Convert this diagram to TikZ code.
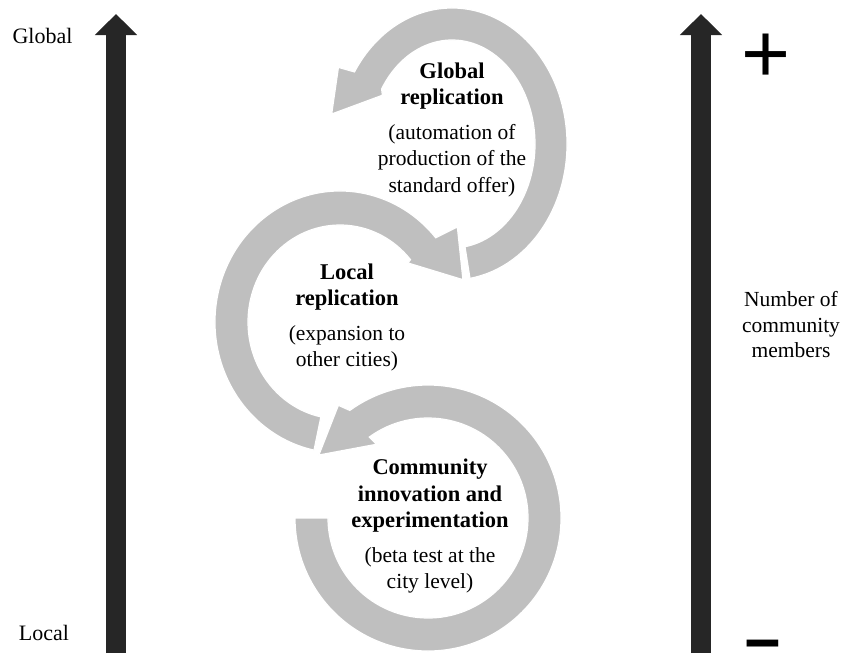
\documentclass[tikz,border=0pt]{standalone}
\usepackage{fontspec}
\setmainfont{Liberation Serif}
\newfontfamily\signfont{Liberation Sans}
\usetikzlibrary{arrows.meta}

\definecolor{axisgray}{HTML}{262626}
\definecolor{ringgray}{HTML}{BFBFBF}

% bold heading lines inside the rings
\newcommand\ringhead[1]{{\fontsize{22.5}{26.5}\selectfont\bfseries #1}}

\begin{document}
\begin{tikzpicture}[x=1pt, y=1pt,
    axisarrow/.style={line width=20pt, draw=axisgray,
                      -{Triangle[width=41pt, length=21pt]}},
    ringfill/.style={fill=ringgray, draw=white, line width=1.2pt},
    ringtext/.style={align=center, inner sep=0pt,
                     font=\fontsize{21.5}{26.5}\selectfont},
    axislabel/.style={anchor=base, inner sep=0pt, font=\fontsize{22}{26}\selectfont},
    sign/.style={inner sep=0pt, font=\signfont\fontsize{84}{84}\selectfont}]

  \useasboundingbox (0,0) rectangle (845,-653);

  % scale arrows
  \coordinate (left-bot)  at (116,-653);
  \coordinate (left-top)  at (116,-14);
  \coordinate (right-bot) at (701,-653);
  \coordinate (right-top) at (701,-14);
  \draw[axisarrow] (left-bot) -- (left-top);
  \draw[axisarrow] (right-bot) -- (right-top);

  \node[axislabel] (global-lbl) at (42.5,-43) {Global};
  \node[axislabel] (local-lbl)  at (44,-640)  {Local};
  \node[ringtext, font=\fontsize{21.5}{25.5}\selectfont] (members-lbl) at (791,-325)
       {Number of\\community\\members};
  \node[sign] (plus) at (766,-58) {+};
  \node[sign, font=\signfont\bfseries\fontsize{63}{63}\selectfont]
       (minus) at (762.5,-652.5) {−};

  % ring centres
  \coordinate (c1) at (452,-144);
  \coordinate (c2) at (340,-322);
  \coordinate (c3) at (428,-518);

  % global replication ring
  \fill[ringfill] ([shift={(-81:83 and 104)}]c1) -- ([shift={(-81:115 and 136)}]c1)
    arc[start angle=-81, end angle=148, x radius=115, y radius=136]
    -- ([shift={(146:137)}]c1) -- ([shift={(166:124)}]c1) -- ([shift={(145:85)}]c1)
    -- ([shift={(148:83 and 104)}]c1)
    arc[start angle=148, end angle=-81, x radius=83, y radius=104] -- cycle;

  % local replication ring
  \fill[ringfill] ([shift={(258:92 and 97)}]c2) -- ([shift={(258:125 and 131)}]c2)
    arc[start angle=258, end angle=40, x radius=125, y radius=131]
    -- ([shift={(39:151)}]c2) -- ([shift={(19:130)}]c2) -- ([shift={(41:90)}]c2)
    -- ([shift={(40:92 and 97)}]c2)
    arc[start angle=40, end angle=258, x radius=92, y radius=97] -- cycle;

  % community ring
  \fill[ringfill] ([shift={(180:100)}]c3) -- ([shift={(180:133)}]c3)
    arc[start angle=180, end angle=486, radius=133]
    -- ([shift={(128.5:144)}]c3) -- ([shift={(150:126)}]c3) -- ([shift={(125:90)}]c3)
    -- ([shift={(126:100)}]c3)
    arc[start angle=486, end angle=180, radius=100] -- cycle;

  \node[ringtext] (global) at (452,-129.5)
       {\ringhead{Global}\\\ringhead{replication}\\[8pt](automation of\\production of the\\standard offer)};
  \node[ringtext] (local) at (347,-317.5)
       {\ringhead{Local}\\\ringhead{replication}\\[8pt](expansion to\\other cities)};
  \node[ringtext] (community) at (430,-526.5)
       {\ringhead{Community}\\\ringhead{innovation and}\\\ringhead{experimentation}\\[8pt](beta test at the\\city level)};
\end{tikzpicture}
\end{document}
